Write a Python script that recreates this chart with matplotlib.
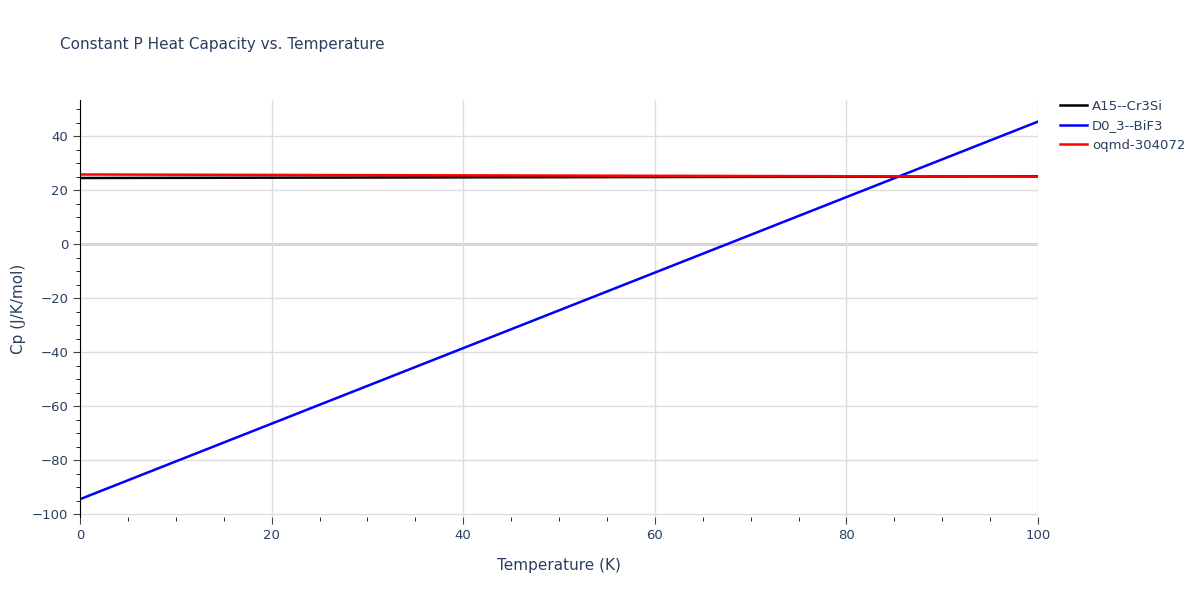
import matplotlib.pyplot as plt
import numpy as np
from matplotlib.ticker import MultipleLocator

temp = [0, 100]
cp_a15 = [24.6, 25.2]
cp_d03 = [-94.4, 45.5]
cp_oqmd = [25.9, 25.1]

fig = plt.figure(figsize=(12, 6), dpi=100)
ax = fig.add_axes([80/1200, 1-517/600, (1038-80)/1200, (517-100)/600])

ax.plot(temp, cp_a15, color='black', lw=1.8, label='A15--Cr3Si')
ax.plot(temp, cp_d03, color='blue', lw=1.8, label='D0_3--BiF3')
ax.plot(temp, cp_oqmd, color='red', lw=1.8, label='oqmd-304072')

ax.set_xlim(0, 100)
ax.set_ylim(-101, 53.5)
ax.xaxis.set_major_locator(MultipleLocator(20))
ax.xaxis.set_minor_locator(MultipleLocator(5))
ax.yaxis.set_major_locator(MultipleLocator(20))
ax.yaxis.set_minor_locator(MultipleLocator(5))
ax.grid(True, which='major', color='#dddddd', lw=1)
ax.axhline(0, color='#cccccc', lw=2, zorder=1)
for s in ['top', 'right']:
    ax.spines[s].set_visible(False)
ax.spines['bottom'].set_visible(False)
ax.tick_params(colors='#444444', labelcolor='#2a3f5f', labelsize=9.5)
ax.tick_params(which='major', length=5)
ax.tick_params(which='minor', length=3)

ax.set_xlabel('Temperature (K)', color='#2a3f5f', fontsize=11, labelpad=12)
ax.set_ylabel('Cp (J/K/mol)', color='#2a3f5f', fontsize=11)
fig.text(60/1200, 1-45/600, 'Constant P Heat Capacity vs. Temperature', color='#2a3f5f', fontsize=11, va='center')

leg = ax.legend(loc='upper left', bbox_to_anchor=(1.015, 1.02), frameon=False, fontsize=9.5,
                handlelength=2.0, handletextpad=0.4, borderaxespad=0.2)
for t in leg.get_texts():
    t.set_color('#2a3f5f')

fig.savefig('out.png')
